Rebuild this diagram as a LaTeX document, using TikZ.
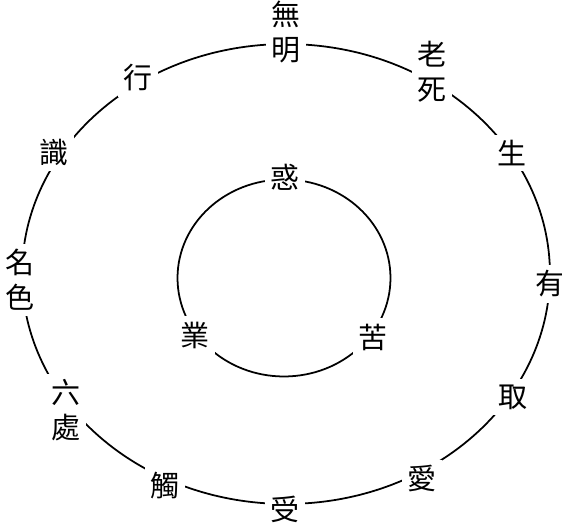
\documentclass[tikz,border=0pt]{standalone}
\usepackage{fontspec}
\newfontfamily\cjk{Noto Sans CJK TC}
\begin{document}
\begin{tikzpicture}[x=0.02cm, y=-0.02cm,
  link/.style={fill=white, inner sep=3pt, align=center,
    font=\cjk\fontsize{16.5}{20}\selectfont}]
  \useasboundingbox (0,0) rectangle (562,530);
  \draw[line width=1pt] (286,274) ellipse [x radius=5.28cm, y radius=4.6cm];
  \draw[line width=1pt] (284,278) ellipse [x radius=2.13cm, y radius=1.97cm];
  \node[link] (wuming) at (286,32) {無\\明};
  \node[link] (xing) at (138,78) {行};
  \node[link] (shi) at (54,152) {識};
  \node[link] (mingse) at (20,280) {名\\色};
  \node[link] (liuchu) at (66,410) {六\\處};
  \node[link] (chu) at (165,486) {觸};
  \node[link] (shou) at (285,509) {受};
  \node[link] (ai) at (422,479) {愛};
  \node[link] (qu) at (513,397) {取};
  \node[link] (you) at (550,284) {有};
  \node[link] (sheng) at (512,153) {生};
  \node[link] (laosi) at (432,72) {老\\死};
  \node[link] (huo) at (285,177) {惑};
  \node[link] (ye) at (195,335) {業};
  \node[link] (ku) at (373,337) {苦};
\end{tikzpicture}
\end{document}
